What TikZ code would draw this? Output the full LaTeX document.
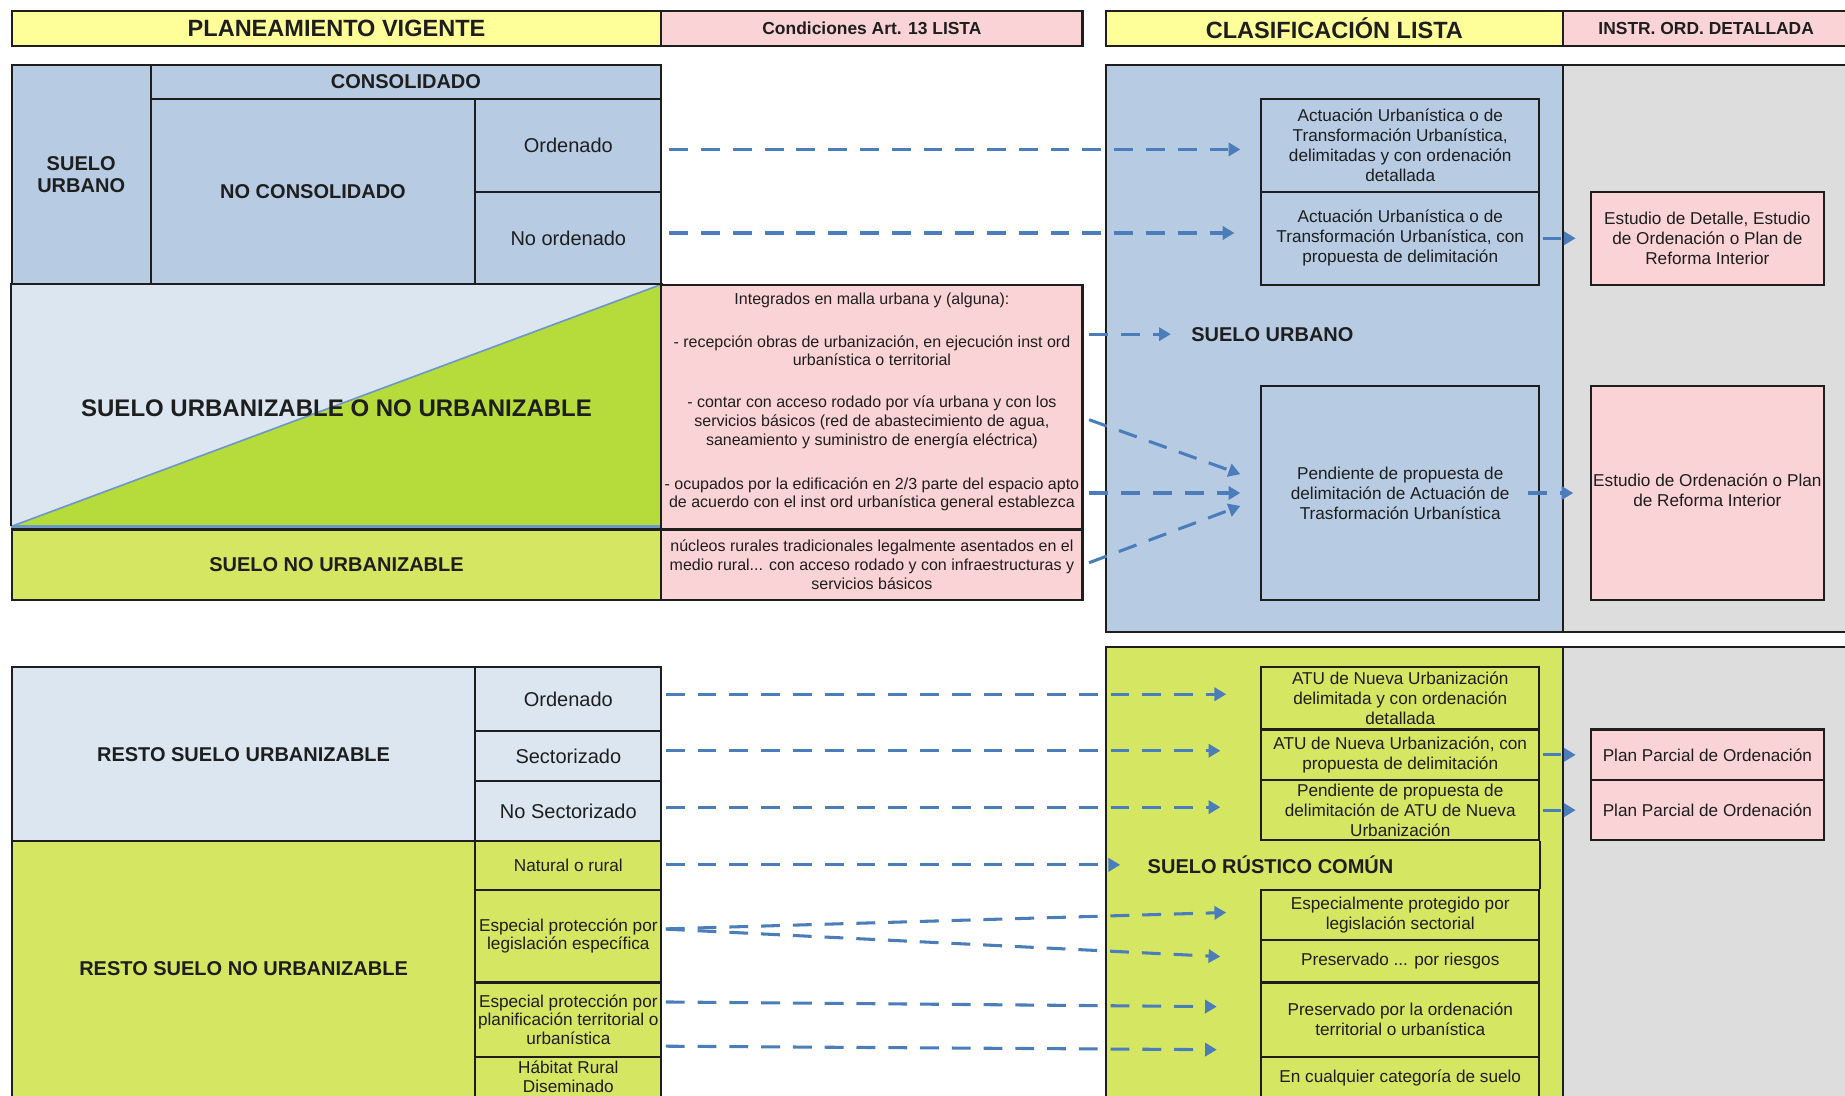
\documentclass[tikz,border=0pt]{standalone}
\usepackage{fontspec}
\setmainfont{Liberation Sans}
\usetikzlibrary{fit,arrows.meta,calc}
\definecolor{hyel}{HTML}{FFFF99}
\definecolor{hpink}{HTML}{FAD3D6}
\definecolor{cblue}{HTML}{B7CBE3}
\definecolor{clblue}{HTML}{DCE6F1}
\definecolor{cgreen}{HTML}{B5DC3A}
\definecolor{clgreen}{HTML}{D5E662}
\definecolor{cgrey}{HTML}{DDDDDD}
\definecolor{arrblue}{HTML}{4A7DBA}
\definecolor{ink}{HTML}{1E1E1E}
\begin{document}
\begin{tikzpicture}[x=0.5pt,y=-0.5pt,
  cell/.style={draw=ink, line width=0.9pt, inner sep=0pt},
  txt/.style={inner sep=0pt, align=center, text=ink},
  hfont/.style={font=\fontsize{10}{12}\selectfont\bfseries},
  sfont/.style={font=\fontsize{7.4}{9}\selectfont\bfseries},
  bfont/.style={font=\fontsize{8.5}{9.5}\selectfont\bfseries},
  xfont/.style={font=\fontsize{10.2}{12}\selectfont\bfseries},
  rfont/.style={font=\fontsize{8.5}{10}\selectfont},
  tfont/.style={font=\fontsize{7.3}{8.5}\selectfont},
  lfont/.style={font=\fontsize{7.3}{8}\selectfont},
  cfont/.style={font=\fontsize{6.8}{8}\selectfont},
  arr/.style={draw=arrblue, line width=1.3pt, dash pattern=on 8pt off 5.5pt,
    -{Triangle[length=5pt,width=5.6pt]}},
]
\useasboundingbox (0,0) rectangle (1568,931);
\begin{scope}
\clip (0,0) rectangle (1568,931);

% ---------- headers
\node[cell, fill=hyel, fit={(10,9)(562,39)}] (h1) {};
\node[txt, hfont] (h1t) at (h1.center) {PLANEAMIENTO VIGENTE};
\node[cell, fill=hpink, fit={(562,9)(920,39)}] (h2) {};
\node[txt, sfont] (h2t) at (h2.center) {Condiciones Art. 13 LISTA};
\node[cell, fill=hyel, fit={(940,9)(1328,39)}] (h3) {};
\node[txt, hfont] (h3t) at (h3.center) {CLASIFICACIÓN LISTA};
\node[cell, fill=hpink, fit={(1328,9)(1572,39)}] (h4) {};
\node[txt, sfont] (h4t) at (h4.center) {INSTR. ORD. DETALLADA};

% ---------- right columns
\node[cell, fill=cblue, fit={(940,55)(1328,537)}] (colu) {};
\node[cell, fill=cgrey, fit={(1328,55)(1580,537)}] (colug) {};
\node[cell, fill=clgreen, fit={(940,550)(1328,945)}] (colr) {};
\node[cell, fill=cgrey, fit={(1328,550)(1580,945)}] (colrg) {};

% ---------- top left block
\node[cell, fill=cblue, fit={(10,55)(128,242)}] (su) {};
\node[txt, bfont] (sut) at (su.center) {SUELO\\URBANO};
\node[cell, fill=cblue, fit={(128,55)(562,84)}] (cons) {};
\node[txt, bfont] (const) at (cons.center) {CONSOLIDADO};
\node[cell, fill=cblue, fit={(128,84)(404,242)}] (ncons) {};
\node[txt, bfont] (nconst) at (ncons.center) {NO CONSOLIDADO};
\node[cell, fill=cblue, fit={(404,84)(562,163)}] (ord1) {};
\node[txt, rfont] (ord1t) at (ord1.center) {Ordenado};
\node[cell, fill=cblue, fit={(404,163)(562,242)}] (nord1) {};
\node[txt, rfont] (nord1t) at (nord1.center) {No ordenado};

% triangle zone
\node[inner sep=0pt, fill=clblue, fit={(10,242)(562,447)}] (suz) {};
\fill[cgreen] (suz.south west) -- (suz.north east) -- (suz.south east) -- cycle;
\draw[arrblue!80, line width=0.7pt] (suz.south west) -- (suz.north east);
\draw[arrblue!80, line width=0.9pt] (suz.south west) -- (suz.south east);
\draw[ink, line width=0.9pt] (suz.south west) -- (suz.north west) -- (suz.north east) -- (suz.south east);
\node[txt, xfont] (suzt) at (286,347) {SUELO URBANIZABLE O NO URBANIZABLE};

\node[cell, fill=clgreen, fit={(10,450)(562,510)}] (snu) {};
\node[txt, bfont] (snut) at (snu.center) {SUELO NO URBANIZABLE};

% conditions
\node[cell, fill=hpink, fit={(562,242)(920,450)}] (cond1) {};
\node[txt, cfont] (ct1) at (741,255) {Integrados en malla urbana y (alguna):};
\node[txt, cfont] (ct2) at (741,298) {- recepción obras de urbanización, en ejecución inst ord\\urbanística o territorial};
\node[txt, cfont] (ct3) at (741,359) {- contar con acceso rodado por vía urbana y con los\\servicios básicos (red de abastecimiento de agua,\\saneamiento y suministro de energía eléctrica)};
\node[txt, cfont] (ct4) at (741,420) {- ocupados por la edificación en 2/3 parte del espacio apto\\de acuerdo con el inst ord urbanística general establezca};
\node[cell, fill=hpink, fit={(562,450)(920,510)}] (cond2) {};
\node[txt, cfont] (cond2t) at (cond2.center) {núcleos rurales tradicionales legalmente asentados en el\\medio rural... con acceso rodado y con infraestructuras y\\servicios básicos};

% ---------- top right boxes
\node[cell, fill=cblue, fit={(1072,84)(1308,163)}] (a1) {};
\node[txt, tfont] (a1t) at (a1.center) {Actuación Urbanística o de\\Transformación Urbanística,\\delimitadas y con ordenación\\detallada};
\node[cell, fill=cblue, fit={(1072,163)(1308,242)}] (a2) {};
\node[txt, tfont] (a2t) at (a2.center) {Actuación Urbanística o de\\Transformación Urbanística, con\\propuesta de delimitación};
\node[txt, bfont, anchor=west] (lsu) at (1012,284) {SUELO URBANO};
\node[cell, fill=cblue, fit={(1072,328)(1308,510)}] (a3) {};
\node[txt, tfont] (a3t) at (a3.center) {Pendiente de propuesta de\\delimitación de Actuación de\\Trasformación Urbanística};
\node[cell, fill=hpink, fit={(1352,163)(1550,242)}] (p1) {};
\node[txt, tfont] (p1t) at (p1.center) {Estudio de Detalle, Estudio\\de Ordenación o Plan de\\Reforma Interior};
\node[cell, fill=hpink, fit={(1352,328)(1550,510)}] (p2) {};
\node[txt, tfont] (p2t) at ($(p2.center)+(0,-2)$) {Estudio de Ordenación o Plan\\de Reforma Interior};

% ---------- bottom left block
\node[cell, fill=clblue, fit={(10,567)(404,715)}] (rsu) {};
\node[txt, bfont] (rsut) at (rsu.center) {RESTO SUELO URBANIZABLE};
\node[cell, fill=clblue, fit={(404,567)(562,621)}] (b1) {};
\node[txt, rfont] (b1t) at (b1.center) {Ordenado};
\node[cell, fill=clblue, fit={(404,621)(562,664)}] (b2) {};
\node[txt, rfont] (b2t) at (b2.center) {Sectorizado};
\node[cell, fill=clblue, fit={(404,664)(562,715)}] (b3) {};
\node[txt, rfont] (b3t) at (b3.center) {No Sectorizado};
\node[cell, fill=clgreen, fit={(10,715)(404,945)}] (rsnu) {};
\node[txt, bfont] (rsnut) at (207,823) {RESTO SUELO NO URBANIZABLE};
\node[cell, fill=clgreen, fit={(404,715)(562,756)}] (c1) {};
\node[txt, lfont] (c1t) at (c1.center) {Natural o rural};
\node[cell, fill=clgreen, fit={(404,756)(562,835)}] (c2) {};
\node[txt, lfont] (c2t) at (c2.center) {Especial protección por\\legislación específica};
\node[cell, fill=clgreen, fit={(404,835)(562,898)}] (c3) {};
\node[txt, lfont] (c3t) at (c3.center) {Especial protección por\\planificación territorial o\\urbanística};
\node[cell, fill=clgreen, fit={(404,898)(562,945)}] (c4) {};
\node[txt, lfont] (c4t) at (483,915) {Hábitat Rural\\Diseminado};

% ---------- bottom right boxes
\node[cell, fill=clgreen, fit={(1072,567)(1308,620)}] (d1) {};
\node[txt, tfont] (d1t) at (d1.center) {ATU de Nueva Urbanización\\delimitada y con ordenación\\detallada};
\node[cell, fill=clgreen, fit={(1072,620)(1308,663)}] (d2) {};
\node[txt, tfont] (d2t) at (d2.center) {ATU de Nueva Urbanización, con\\propuesta de delimitación};
\node[cell, fill=clgreen, fit={(1072,663)(1308,714)}] (d3) {};
\node[txt, tfont] (d3t) at (d3.center) {Pendiente de propuesta de\\delimitación de ATU de Nueva\\Urbanización};
\node[txt, bfont, anchor=west] (lsr) at (975,735) {SUELO RÚSTICO COMÚN};
\node[cell, fill=clgreen, fit={(1072,756)(1308,799)}] (e1) {};
\node[txt, tfont] (e1t) at (e1.center) {Especialmente protegido por\\legislación sectorial};
\node[cell, fill=clgreen, fit={(1072,799)(1308,835)}] (e2) {};
\node[txt, tfont] (e2t) at (e2.center) {Preservado ... por riesgos};
\node[cell, fill=clgreen, fit={(1072,835)(1308,898)}] (e3) {};
\node[txt, tfont] (e3t) at (e3.center) {Preservado por la ordenación\\territorial o urbanística};
\node[cell, fill=clgreen, fit={(1072,898)(1308,945)}] (e4) {};
\node[txt, tfont] (e4t) at (1190,916) {En cualquier categoría de suelo};
\draw[ink, line width=0.9pt] (d3.south east) -- (e1.north east);
\node[cell, fill=hpink, fit={(1352,620)(1550,663)}] (q1) {};
\node[txt, tfont] (q1t) at (q1.center) {Plan Parcial de Ordenación};
\node[cell, fill=hpink, fit={(1352,663)(1550,714)}] (q2) {};
\node[txt, tfont] (q2t) at (q2.center) {Plan Parcial de Ordenación};

% ---------- arrows top
\draw[arr, shorten <=3pt] ($(ord1.east)+(0,3.5)$) -- ($(a1.west)+(-17,3.5)$);
\draw[arr, shorten <=3pt] ($(nord1.east)+(0,-4.5)$) -- ($(a2.west)+(-22,-4.5)$);
\draw[arr, shorten <=2.5pt, shorten >=8.5pt] (cond1.east |- lsu.west) -- (lsu.west);
\draw[arr, shorten <=2.5pt] ($(cond1.east)+(0,9)$) -- ($(a3.west)+(-17,-16)$);
\draw[arr, shorten <=2.5pt, shorten >=8.5pt] (cond1.east |- a3.west) -- (a3.west);
\draw[arr, shorten <=2.5pt] (cond2.east) -- ($(a3.west)+(-17,11)$);
\draw[arr, shorten <=1pt, shorten >=6pt] (a2.east) -- (p1.west);
\draw[arr, shorten <=-5pt, shorten >=7pt] (a3.east) -- (p2.west);

% ---------- arrows bottom
\draw[arr, shorten <=1.5pt] ($(b1.east)+(0,-4)$) -- ($(d1.west)+(-29,-3.5)$);
\draw[arr, shorten <=1.5pt] ($(b2.east)+(0,-4.5)$) -- ($(d2.west)+(-34,-3.5)$);
\draw[arr, shorten <=1.5pt] ($(b3.east)+(0,-3.5)$) -- ($(d3.west)+(-34,-2.5)$);
\draw[arr, shorten <=1.5pt, shorten >=11.5pt] (c1.east |- lsr.west) -- (lsr.west);
\draw[arr, shorten <=1.5pt] ($(c2.east)+(0,-6)$) -- ($(e1.west)+(-29,-2)$);
\draw[arr, shorten <=1.5pt] ($(c2.east)+(0,-6)$) -- ($(e2.west)+(-34,-4)$);
\draw[arr, shorten <=1.5pt] ($(c3.east)+(0,-15)$) -- ($(e3.west)+(-37,-11)$);
\draw[arr, shorten <=1.5pt] ($(c4.north east)+(0,-8)$) -- ($(e4.north west)+(-37,-5)$);
\draw[arr, shorten <=1pt, shorten >=6pt] (d2.east) -- (q1.west);
\draw[arr, shorten <=1pt, shorten >=6pt] (d3.east) -- (q2.west);
\end{scope}
\end{tikzpicture}
\end{document}
